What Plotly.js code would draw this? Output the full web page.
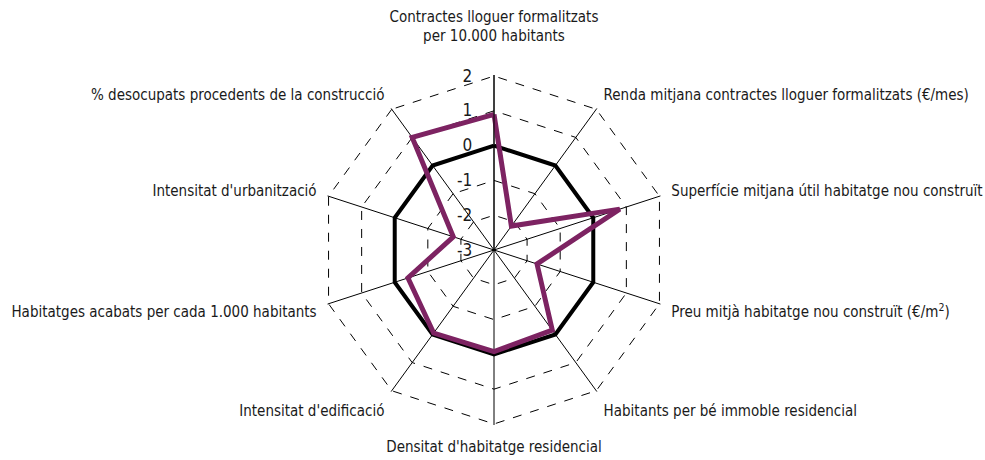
<!DOCTYPE html>
<html>
<head>
<meta charset="utf-8">
<script src="https://cdn.plot.ly/plotly-3.0.1.min.js"></script>
<style>html,body{margin:0;padding:0;background:#fff}#chart{width:985px;height:460px}
#chart text{font-stretch:condensed !important;}</style>
</head>
<body>
<div id="chart"></div>
<script>
const categories = [
  "Contractes lloguer formalitzats<br>per 10.000 habitants<br>\u00a0",
  "Renda mitjana contractes lloguer formalitzats (€/mes)",
  "Superfície mitjana útil habitatge nou construït",
  "Preu mitjà habitatge nou construït (€/m<sup>2</sup>)",
  "Habitants per bé immoble residencial",
  "Densitat d'habitatge residencial",
  "Intensitat d'edificació",
  "Habitatges acabats per cada 1.000 habitants",
  "Intensitat d'urbanització",
  "% desocupats procedents de la construcció"
];
const referenceValues = [0, 0, 0, 0, 0, 0, 0, 0, 0, 0];
const seriesValues = [0.9, -2.15, 0.8, -1.7, -0.15, -0.08, -0.05, -0.4, -1.77, 1.0];
const radialTicks = [-3, -2, -1, 0, 1, 2];

const closeLoop = a => a.concat([a[0]]);
const theta = closeLoop(categories);

const font = "'DejaVu Sans Condensed', 'DejaVu Sans', sans-serif";
const pad = '\u2003';

const traces = [
  {type: 'scatterpolar', r: closeLoop(referenceValues), theta: theta, mode: 'lines',
   line: {color: '#000000', width: 4}, hoverinfo: 'skip', showlegend: false},
  {type: 'scatterpolar', r: closeLoop(seriesValues), theta: theta, mode: 'lines',
   line: {color: '#7d2362', width: 5}, showlegend: false}
];

const layout = {
  width: 985, height: 460,
  margin: {l: 0, r: 0, t: 0, b: 0},
  paper_bgcolor: '#ffffff',
  font: {family: font, size: 15, color: '#1a1a1a'},
  showlegend: false,
  polar: {
    domain: {x: [319/985, 669/985], y: [35/460, 385/460]},
    bgcolor: 'rgba(0,0,0,0)',
    gridshape: 'linear',
    radialaxis: {
      range: [-3, 2.03], tickvals: radialTicks, ticktext: radialTicks.map(v => String(v) + pad),
      angle: 90, tickangle: 90, side: 'counterclockwise',
      showline: true, linecolor: '#000', linewidth: 1,
      showgrid: true, gridcolor: '#000', gridwidth: 1, griddash: 'dash',
      ticks: '', tickfont: {size: 17, family: font, color: '#1a1a1a'}
    },
    angularaxis: {
      direction: 'clockwise', rotation: 90,
      showline: false,
      showgrid: true, gridcolor: '#000', gridwidth: 1,
      ticks: 'outside', ticklen: 8, tickcolor: 'rgba(0,0,0,0)',
      tickfont: {size: 15, family: font, color: '#1a1a1a'}
    }
  }
};

Plotly.newPlot('chart', traces, layout, {displayModeBar: false, staticPlot: true});
</script>
</body>
</html>
